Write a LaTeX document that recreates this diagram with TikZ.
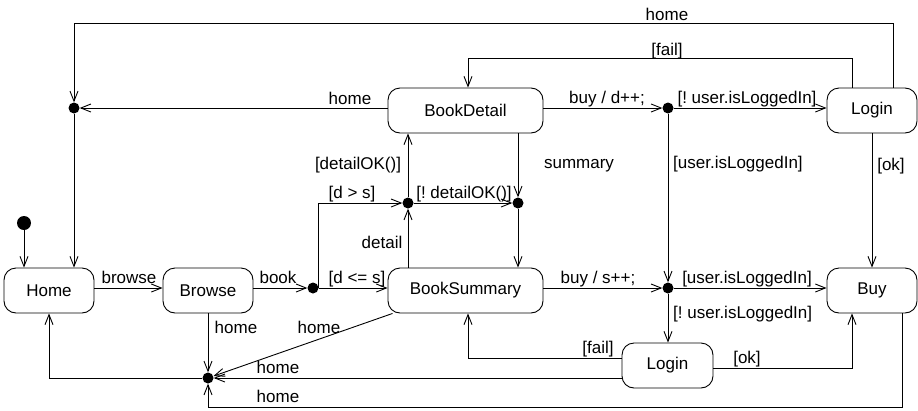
\documentclass[tikz,border=0pt]{standalone}
\usepackage{fontspec}
\setmainfont{Liberation Sans}
\usetikzlibrary{arrows.meta,calc}
\frenchspacing

\begin{document}
\begin{tikzpicture}[x=1pt,y=-1pt,
  every node/.style={font=\fontsize{17}{20}\selectfont},
  state/.style={draw, rounded corners=12pt, minimum height=45pt, inner sep=0pt, line width=0.9pt},
  junction/.style={circle, fill, inner sep=0pt, minimum size=11pt},
  startdot/.style={circle, fill, inner sep=0pt, minimum size=14pt},
  lbl/.style={inner sep=0pt, anchor=base},
  lblw/.style={inner sep=0pt, anchor=base west},
  flow/.style={draw, line width=0.9pt, -{Straight Barb[length=10pt,width=8pt,line width=0.9pt]}},
  wire/.style={draw, line width=0.9pt}]

\useasboundingbox (0,0) rectangle (918,410);

% states
\node[state, minimum width=90pt]  (home)   at (49,290.5)   {Home};
\node[state, minimum width=90pt]  (browse) at (208,290.5)  {Browse};
\node[state, minimum width=155pt] (bsum)   at (465.5,290.5){BookSummary};
\node[state, minimum width=155pt] (bdet)   at (465.5,110.5){BookDetail};
\node[state, minimum width=90pt]  (loginT) at (872,110.5)  {Login};
\node[state, minimum width=90pt]  (buy)    at (872,290.5)  {Buy};
\node[state, minimum width=91pt]  (loginB) at (667.5,365.5){Login};

% pseudo states
\node[startdot] (init) at (24,223) {};
\node[junction] (jht)  at (74,108)  {};
\node[junction] (jb)   at (313,288) {};
\node[junction] (jdet) at (408,203) {};
\node[junction] (jsum) at (518,203) {};
\node[junction] (jbd)  at (668,108) {};
\node[junction] (jbs)  at (668,288) {};
\node[junction] (jhb)  at (208,378) {};

% bend points
\coordinate (c1) at (893,23);
\coordinate (c2) at (852,58);
\coordinate (c3) at (468,58);
\coordinate (c4) at (468,358);
\coordinate (c5) at (852,368);
\coordinate (c6) at (902,407);

% transitions
\path[flow] (init) -- (init |- home.north);
\path[flow] (loginT.north -| c1) -- (c1) -- (c1 -| jht) -- (jht);
\path[flow] (jht) -- (jht |- home.north);
\path[flow] (loginT.north -| c2) |- (c3) -- (c3 |- bdet.north);
\path[flow] (bdet.west |- jht) -- (jht);
\path[flow] (bdet.east |- jbd) -- (jbd);
\path[flow] (jbd) -- (loginT.west |- jbd);
\path[flow] (jbd) -- (jbs);
\path[flow] (loginT.south) -- (buy.north);
\path[flow] (bdet.south -| jsum) -- (jsum);
\path[flow] (jsum) -- (jsum |- bsum.north);
\path[flow] (jdet) -- (jdet |- bdet.south);
\path[flow] (jdet) -- (jsum);
\path[flow] (bsum.north -| jdet) -- (jdet);
\path[flow] (jb.east) |- (jdet);
\path[flow] (jb) -- (bsum.west |- jb);
\path[flow] (home.east |- jb) -- (browse.west |- jb);
\path[flow] (browse.east |- jb) -- (jb);
\path[flow] (bsum.east |- jbs) -- (jbs);
\path[flow] (jbs) -- (buy.west |- jbs);
\path[flow] (jbs) -- (jbs |- loginB.north);
\path[flow] (loginB.west |- c4) -- (c4) -- (c4 |- bsum.south);
\path[flow] (loginB.east |- c5) -- (c5) -- (c5 |- buy.south);
\path[flow] (loginB.west |- jhb) -- (jhb);
\path[flow] (buy.south -| c6) -- (c6) -- (c6 -| jhb) -- (jhb);
\path[flow] ($(bsum.south west)+(5,0)$) -- (jhb);
\path[flow] (browse.south) -- (jhb);
\path[flow] (jhb) -| (home.south);

% transition labels
\node[lbl] (t1)  at (667,20)  {home};
\node[lbl] (t2)  at (667,55)  {[fail]};
\node[lbl] (t3)  at (350,104) {home};
\node[lbl] (t4)  at (607,103) {buy / d++;};
\node[lbl] (t5)  at (747,103) {[! user.isLoggedIn]};
\node[lbl] (t6)  at (579,168) {summary};
\node[lblw](t7)  at (673,168) {[user.isLoggedIn]};
\node[lbl] (t8)  at (891,170) {[ok]};
\node[lbl] (t9)  at (358,169) {[detailOK()]};
\node[lbl] (t10) at (352,198) {[d > s]};
\node[lbl] (t11) at (464,198) {[! detailOK()]};
\node[lbl] (t12) at (382,248) {detail};
\node[lbl] (t13) at (129,283) {browse};
\node[lbl] (t14) at (278,283) {book};
\node[lbl] (t15) at (357,283) {[d <= s]};
\node[lbl] (t16) at (598,283) {buy / s++;};
\node[lbl] (t17) at (747,283) {[user.isLoggedIn]};
\node[lblw](t18) at (673,318) {[! user.isLoggedIn]};
\node[lbl] (t19) at (236,333) {home};
\node[lbl] (t20) at (319,333) {home};
\node[lbl] (t21) at (598,353) {[fail]};
\node[lbl] (t22) at (747,363) {[ok]};
\node[lbl] (t23) at (278,373) {home};
\node[lbl] (t24) at (278,402) {home};
\end{tikzpicture}
\end{document}
